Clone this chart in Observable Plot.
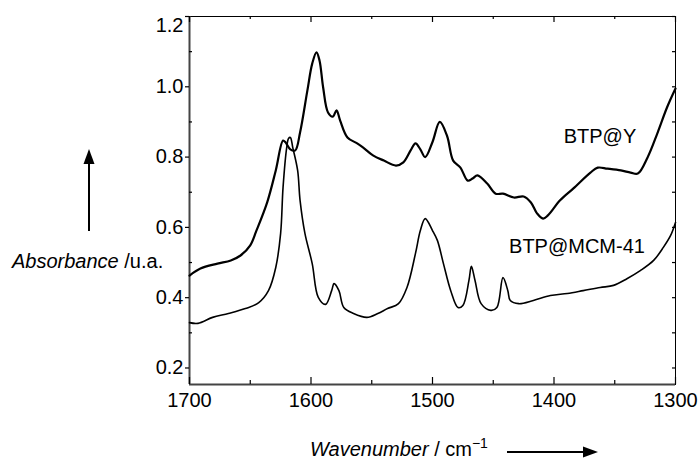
<!DOCTYPE html>
<html><head><meta charset="utf-8">
<script src="https://cdn.jsdelivr.net/npm/d3@7"></script>
<script src="https://cdn.jsdelivr.net/npm/@observablehq/plot@0.6"></script>
<style>body{margin:0;background:#fff} svg{display:block}</style>
</head><body><div id="chart"></div>
<script>
// BTP@Y spectrum (wavenumber / absorbance)
const wnY  = [1700,1691,1677,1666,1658,1650,1645,1636,1629,1623,1621,1617,1613,1609,1603,1599,1595.5,1593,1590,1586,1582,1579,1576,1570,1562,1557,1549,1540,1530,1524,1518,1514,1510,1506,1500,1494,1488,1483,1477,1471,1467,1463,1455,1448,1442,1433,1425,1419,1414,1409,1405,1395,1384,1370,1364,1356,1345,1337,1331,1323,1315,1307,1300];
const absY = [0.463,0.483,0.497,0.506,0.520,0.549,0.590,0.672,0.762,0.847,0.842,0.822,0.819,0.870,0.989,1.066,1.098,1.075,0.998,0.927,0.915,0.933,0.904,0.856,0.839,0.827,0.805,0.790,0.776,0.785,0.819,0.839,0.822,0.800,0.843,0.900,0.860,0.790,0.770,0.733,0.739,0.748,0.725,0.696,0.696,0.685,0.688,0.671,0.640,0.625,0.634,0.677,0.711,0.756,0.770,0.767,0.762,0.756,0.753,0.799,0.867,0.941,0.995];
// BTP@MCM-41 spectrum
const wnM  = [1700,1693,1681,1668,1654,1643,1635,1629,1625,1623,1620,1618.5,1617,1615,1611,1609,1605,1599,1594,1588,1583,1581,1577,1573,1565,1554,1545,1537,1528,1521,1514,1510,1506,1500,1496,1491,1485,1479,1475,1470,1468,1465,1460,1452,1447,1442,1438,1436,1429,1417,1403,1389,1376,1362,1351,1340,1329,1318,1310,1304,1300];
const absM = [0.329,0.327,0.344,0.355,0.369,0.386,0.420,0.486,0.583,0.714,0.827,0.853,0.856,0.827,0.762,0.677,0.583,0.497,0.401,0.381,0.420,0.440,0.420,0.372,0.355,0.344,0.355,0.369,0.383,0.429,0.526,0.591,0.625,0.591,0.563,0.497,0.420,0.372,0.378,0.449,0.489,0.449,0.383,0.364,0.372,0.457,0.420,0.392,0.383,0.392,0.406,0.412,0.420,0.429,0.435,0.454,0.477,0.506,0.543,0.577,0.614];

const seriesNames = ["BTP@Y", "BTP@MCM-41"];
const labelWn  = [1392, 1437];
const labelAbs = [0.857, 0.546];

const xTickLabels = [1700, 1600, 1500, 1400, 1300];
const xMinorTicks = [1650, 1550, 1450, 1350];
const yTickLabels = [0.2, 0.4, 0.6, 0.8, 1.0, 1.2];
const yMinorTicks = [0.3, 0.5, 0.7, 0.9, 1.1];

const xDomain = [1700, 1300];
const yDomain = [0.153, 1.2];

const dataY = wnY.map((w, i) => ({wn: w, a: absY[i]}));
const dataM = wnM.map((w, i) => ({wn: w, a: absM[i]}));
const labels = seriesNames.map((s, i) => ({s, wn: labelWn[i], a: labelAbs[i]}));

const W = 699, H = 459, mT = 16, mR = 24, mB = 75, mL = 189;
const innerW = W - mL - mR, innerH = H - mT - mB;
// data units per pixel (for tick lengths)
const ky = (yDomain[1] - yDomain[0]) / innerH;
const kx = (xDomain[0] - xDomain[1]) / innerW;

const font = "'Liberation Sans', Arial, Helvetica, sans-serif";
const tk = {stroke: "#000", strokeWidth: 1.2};

const plot = Plot.plot({
  width: W, height: H,
  marginTop: mT, marginRight: mR, marginBottom: mB, marginLeft: mL,
  style: {fontFamily: font, fontSize: "20px", color: "#000", background: "#fff"},
  x: {domain: xDomain, label: null},
  y: {domain: yDomain, label: null},
  marks: [
    Plot.frame({stroke: "#000", strokeWidth: 1}),
    Plot.ruleX([xDomain[0]], {stroke: "#444", strokeWidth: 2}),
    Plot.ruleY([yDomain[0]], {stroke: "#444", strokeWidth: 2}),
    // x ticks pointing inward on bottom and top
    Plot.ruleX(xTickLabels, {x: d => d, y1: yDomain[0], y2: yDomain[0] + 7 * ky, ...tk}),
    Plot.ruleX(xMinorTicks, {x: d => d, y1: yDomain[0], y2: yDomain[0] + 4 * ky, ...tk}),
    Plot.ruleX(xTickLabels, {x: d => d, y1: yDomain[1], y2: yDomain[1] - 6 * ky, ...tk}),
    Plot.ruleX(xMinorTicks, {x: d => d, y1: yDomain[1], y2: yDomain[1] - 3 * ky, ...tk}),
    // y ticks: left major outward, left minor inward, right inward
    Plot.ruleY(yTickLabels, {y: d => d, x1: xDomain[0], x2: xDomain[0] + 4 * kx, ...tk}),
    Plot.ruleY(yMinorTicks, {y: d => d, x1: xDomain[0], x2: xDomain[0] - 3 * kx, ...tk}),
    Plot.ruleY(yTickLabels.concat(yMinorTicks), {y: d => d, x1: xDomain[1], x2: xDomain[1] + 3 * kx, ...tk}),
    // tick labels
    Plot.axisX(xTickLabels, {anchor: "bottom", tickSize: 0, tickPadding: 8, fontSize: 20, tickFormat: d => String(d), label: null}),
    Plot.axisY(yTickLabels.filter(d => d < 1.2), {anchor: "left", tickSize: 0, tickPadding: 6, fontSize: 20, tickFormat: d3.format(".1f"), label: null}),
    Plot.axisY(yTickLabels.filter(d => d >= 1.2), {anchor: "left", tickSize: 0, tickPadding: 6, dy: 9, fontSize: 20, tickFormat: d3.format(".1f"), label: null}),
    // spectra
    Plot.line(dataY, {x: "wn", y: "a", stroke: "#000", strokeWidth: 2.2, curve: "catmull-rom"}),
    Plot.line(dataM, {x: "wn", y: "a", stroke: "#000", strokeWidth: 1.6, curve: "catmull-rom"}),
    Plot.text(labels, {x: "wn", y: "a", text: "s", textAnchor: "start", fontSize: 20, fill: "#000"})
  ]
});

const svg = d3.select(plot);
// y axis title
const yt = svg.append("text").attr("x", 12).attr("y", 268).attr("text-anchor", "start")
  .attr("font-size", 20).attr("font-family", font).attr("fill", "#000");
yt.append("tspan").attr("font-style", "italic").text("Absorbance");
yt.append("tspan").text(" /u.a.");
// x axis title
const xt = svg.append("text").attr("x", 310).attr("y", 456).attr("text-anchor", "start")
  .attr("font-size", 20).attr("font-family", font).attr("fill", "#000");
xt.append("tspan").attr("font-style", "italic").text("Wavenumber");
xt.append("tspan").text(" / cm");
xt.append("tspan").attr("font-size", 14).attr("dy", -8).text("\u22121");
// arrows
svg.append("line").attr("x1", 89).attr("y1", 231).attr("x2", 89).attr("y2", 160).attr("stroke", "#000").attr("stroke-width", 2);
svg.append("path").attr("d", "M89,149 L83.5,164 L94.5,164 Z").attr("fill", "#000");
svg.append("line").attr("x1", 507).attr("y1", 452).attr("x2", 586).attr("y2", 452).attr("stroke", "#000").attr("stroke-width", 2);
svg.append("path").attr("d", "M598,452 L583,446.5 L583,457.5 Z").attr("fill", "#000");

document.getElementById("chart").appendChild(plot);
</script>
</body></html>
